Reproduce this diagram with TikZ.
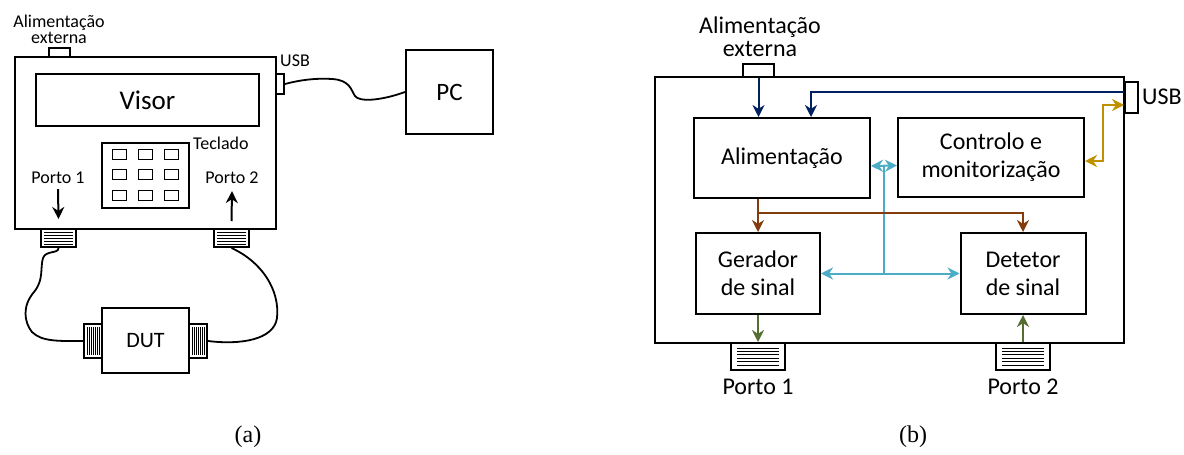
\documentclass[tikz,border=0pt]{standalone}
\usepackage{fontspec}
\setmainfont{Carlito}
\newfontfamily\capfont{Liberation Serif}
\usetikzlibrary{arrows.meta, calc}
\definecolor{navyc}{RGB}{0,32,96}
\definecolor{goldc}{RGB}{191,144,0}
\definecolor{cyanc}{RGB}{75,172,198}
\definecolor{brownc}{RGB}{132,60,12}
\definecolor{greenc}{RGB}{84,110,50}
\tikzset{
	box/.style={rectangle, draw, line width=2pt, fill=white, inner sep=0pt, align=center},
	key/.style={rectangle, draw, line width=1pt, minimum width=14pt, minimum height=10pt, inner sep=0pt},
	hatch/.style={line width=0.8pt},
	cable/.style={line width=1.8pt},
	arr/.style={line width=2pt, -{Stealth[length=12pt, width=12pt]}},
	darr/.style={line width=2pt, {Stealth[length=12pt, width=12pt]}-{Stealth[length=12pt, width=12pt]}},
	txta/.style={font=\fontsize{18}{14}\selectfont, inner sep=0pt, align=center},
	txtb/.style={font=\fontsize{24}{28}\selectfont, inner sep=0pt, align=center}
}

\begin{document}
\begin{tikzpicture}[x=1pt, y=-1pt]
	\useasboundingbox (0,0) rectangle (1184,455);

	% (a) bancada
	\node[box, minimum width=261, minimum height=172] (deva) at (145.5,143) {};
	\node[box, minimum width=21, minimum height=9] (exta) at (59.5,52.5) {};
	\node[txta, font=\fontsize{18}{16}\selectfont] (extlaba) at (59,29) {Alimentação\\externa};
	\node[box, minimum width=223, minimum height=52, font=\fontsize{27}{30}\selectfont] (visor) at (147.5,100) {Visor};
	\node[box, minimum width=87, minimum height=65] (teclado) at (145.5,175.5) {};
	\foreach \i in {0,1,2}
		\foreach \j in {0,1,2}
			\node[key] at (119+26*\i, 154+20.5*\j) {};
	\node[txta, anchor=west] (tecllab) at ([xshift=3pt, yshift=-1pt]teclado.north east) {Teclado};
	\node[box, minimum width=8, minimum height=20] (usba) at (280,84) {};
	\node[txta] (usblaba) at (295,61) {USB};
	\node[box, minimum width=87, minimum height=84, font=\fontsize{25}{28}\selectfont] (pc) at (449.5,92) {PC};

	\node[txta] (p1laba) at (58,178) {Porto 1};
	\node[txta] (p2laba) at (232,178) {Porto 2};
	\node[box, minimum width=35, minimum height=18] (p1a) at (58.5,238) {};
	\node[box, minimum width=35, minimum height=18] (p2a) at (231.5,238) {};
	\foreach \p in {p1a, p2a}
		\foreach \d in {-6,-3,0,3,6}
			\draw[hatch] ([xshift=4pt, yshift=\d pt]\p.west) -- ([xshift=-4pt, yshift=\d pt]\p.east);
	\draw[arr] ([yshift=-5pt]p1laba.south) -- ([yshift=9pt]p1a.north);
	\draw[arr] ([yshift=7pt]p2a.north) -- ([yshift=-7pt]p2laba.south);

	\node[box, minimum width=87, minimum height=65, font=\fontsize{22}{24}\selectfont] (dut) at (145.5,340.5) {DUT};
	\node[box, minimum width=18, minimum height=34] (dutl) at (93,341) {};
	\node[box, minimum width=18, minimum height=34] (dutr) at (198,341) {};
	\foreach \p in {dutl, dutr}
		\foreach \d in {-6,-4,...,6}
			\draw[hatch] ([xshift=\d pt, yshift=-4pt]\p.north) -- ([xshift=\d pt, yshift=4pt]\p.south);

	\draw[cable] (usba.east) .. controls (300,80) and (315,78) .. (332,79)
		.. controls (350,80) and (351,90) .. (355,96)
		.. controls (359,102) and (380,101) .. (pc.west);
	\draw[cable] (p1a.south) .. controls (58.5,254) and (46,250) .. (43,258)
		.. controls (40,268) and (44,280) .. (34,292)
		.. controls (22,306) and (24,322) .. (32,332)
		.. controls (42,342) and (60,341) .. (dutl.west);
	\draw[cable] (p2a.south) .. controls (262,262) and (280,290) .. (277,318)
		.. controls (274,340) and (240,345) .. (dutr.east);

	\node[font=\capfont\fontsize{24}{26}\selectfont] (capa) at (248,437) {(a)};

	% (b) diagrama de blocos
	\node[box, minimum width=469, minimum height=266] (devb) at (889.5,210) {};
	\node[box, minimum width=31, minimum height=13] (extb) at (758.5,70.5) {};
	\node[txtb, font=\fontsize{24}{23}\selectfont] (extlabb) at (760,37) {Alimentação\\externa};
	\node[box, minimum width=13, minimum height=31] (usbb) at (1131.5,97.5) {};
	\node[txtb, anchor=west] (usblabb) at (1142,97) {USB};

	\node[box, txtb, minimum width=176, minimum height=80] (alim) at (782,158) {Alimentação};
	\node[box, txtb, minimum width=186, minimum height=79] (ctrl) at (991,157.5) {Controlo e\\monitorização};
	\node[box, txtb, minimum width=124, minimum height=81] (gen) at (758,273.5) {Gerador\\de sinal};
	\node[box, txtb, minimum width=125, minimum height=81] (det) at (1023,273.5) {Detetor\\de sinal};

	\node[box, minimum width=54, minimum height=27] (p1b) at (758,356.5) {};
	\node[box, minimum width=54, minimum height=27] (p2b) at (1023,356.5) {};
	\foreach \p in {p1b, p2b}
		\foreach \d in {-8.5,-5.1,-1.7,1.7,5.1,8.5}
			\draw[hatch] ([xshift=7pt, yshift=\d pt]\p.west) -- ([xshift=-7pt, yshift=\d pt]\p.east);
	\node[txtb] (p1labb) at (758,387) {Porto 1};
	\node[txtb] (p2labb) at (1023,387) {Porto 2};

	\coordinate (nj) at (1124,92);
	\coordinate (gj) at (1103,161);
	\coordinate (cj) at (884,166);
	\coordinate (bj) at (758,213);

	\draw[arr, navyc] (extb.south) -- (extb.south |- alim.north);
	\draw[arr, navyc] (nj) -| ([xshift=29pt]alim.north);
	\draw[darr, goldc] ([yshift=-3.5pt]ctrl.east) -- (gj) |- (usbb.west |- 0,105);
	\draw[darr, cyanc] ([yshift=-8pt]alim.east) -- ([yshift=-8pt]ctrl.west);
	\draw[cyanc, line width=2pt] (cj) -- (cj |- gen.east);
	\draw[darr, cyanc] (gen.east) -- (det.west);
	\draw[brownc, line width=2pt] (alim.south -| gen.north) -- (bj);
	\draw[arr, brownc] (bj) -- (gen.north);
	\draw[arr, brownc] (bj) -| (det.north);
	\draw[arr, greenc] (gen.south) -- (p1b.north);
	\draw[arr, greenc] (p2b.north) -- (det.south);

	\node[font=\capfont\fontsize{24}{26}\selectfont] (capb) at (913,437) {(b)};
\end{tikzpicture}
\end{document}
